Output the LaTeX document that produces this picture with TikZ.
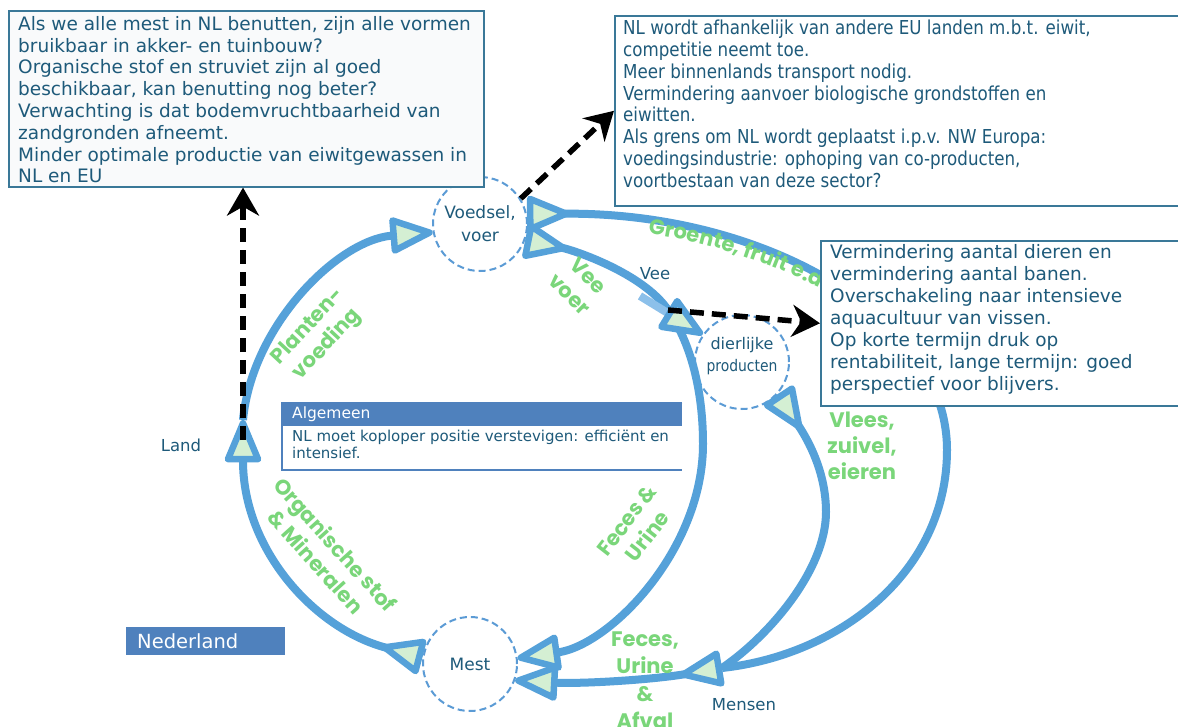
\documentclass[tikz,border=0pt]{standalone}
\usepackage{fontspec}
\setmainfont{DejaVu Sans}
\newfontfamily\condfont{DejaVu Sans}[FakeStretch=0.87]
\newfontfamily\greenfont{Poppins}
\usetikzlibrary{arrows.meta,decorations.text,calc}

\definecolor{arcblue}{HTML}{55A1D9}
\definecolor{arcblueLight}{HTML}{8CC0EA}
\definecolor{tipfill}{HTML}{D4EFD3}
\definecolor{hubline}{HTML}{5B9BD5}
\definecolor{inktext}{HTML}{1E5A7A}
\definecolor{panelline}{HTML}{3A7898}
\definecolor{headblue}{HTML}{4F81BD}
\definecolor{leafgreen}{HTML}{7AD67A}
\definecolor{panelfill}{HTML}{F9FAFB}

\tikzset{
  flow/.style={draw=arcblue, line width=8pt},
  tri/.tip={Triangle[length=48pt, width=38pt, line width=6.5pt, fill=tipfill, round]},
  trs/.tip={Triangle[length=48pt, width=38pt, line width=6.5pt, fill=tipfill, round, reversed]},
  hub/.style={circle, draw=hubline, line width=2pt, dash pattern=on 7pt off 4pt,
    minimum size=94pt, inner sep=0pt, fill=white, text=inktext, align=center,
    font=\fontsize{17}{23}\selectfont},
  panel/.style={draw=panelline, line width=1.6pt, anchor=north west, inner sep=0pt},
  paneltext/.style={anchor=north west, inner sep=0pt, align=left, text=inktext,
    font=\fontsize{18.5}{21.8}\selectfont},
  glabel/.style={text=leafgreen, align=center, inner sep=0pt,
    font=\greenfont\bfseries\fontsize{21}{26}\selectfont},
  tag/.style={text=inktext, inner sep=0pt, font=\fontsize{16.5}{19}\selectfont},
  pointer/.style={draw=black, line width=5.5pt, dash pattern=on 14pt off 8pt,
    -{Stealth[length=28pt, width=32pt, inset=9pt]}},
}

\begin{document}
\begin{tikzpicture}[x=1pt,y=1pt]
\useasboundingbox (0,0) rectangle (1178,-727);
\fill[white] (0,0) rectangle (1178,-727);

% stations of the cycle
\node[hub] (voedsel) at (480,-224) {Voedsel,\\voer};
\node[hub, font=\fontsize{16}{22}\selectfont] (dier) at (742,-362) {dierlijke\\{\condfont producten}\rule[-16pt]{0pt}{0pt}};
\node[hub] (mest) at (470,-664) {Mest};

\coordinate (land) at (243,-420);
\coordinate (vee) at (668,-310);
\coordinate (veeb) at (640,-296);
\coordinate (mensen) at (722,-668);
\coordinate (eastbend) at (947,-450);
\coordinate (veebend) at (703,-444);
\coordinate (vleesbend) at (826,-512);

% flows
\draw[flow, -{tri}] (land) .. controls (252,-325) and (338,-240) .. (voedsel.190);
\draw[flow, {trs}-{tri}] (mest.172) .. controls (315,-629) and (243,-550) .. (land);
\draw[flow, {trs}-] (voedsel.12) .. controls (761,-212) and (947,-314) .. (eastbend)
   .. controls (947,-572) and (840,-655) .. (mensen);
\draw[flow, {trs}-{tri}] (voedsel.-20) .. controls (573,-250) and (643,-273) .. (vee)
   .. controls (694,-348) and (703,-398) .. (veebend)
   .. controls (703,-550) and (610,-645) .. (mest.7);
\draw[flow, {trs}-] (dier.-42) .. controls (808,-440) and (826,-472) .. (vleesbend)
   .. controls (826,-570) and (769,-636) .. (mensen);
\draw[flow, {trs}-{tri}] (mensen) .. controls (650,-680) and (580,-684) .. (mest.-20);
\draw[flow, draw=arcblueLight,
  -{Triangle[length=48pt, width=38pt, line width=6.5pt, round, color=arcblue, fill=tipfill]}] (veeb) -- (dier.145);

% flow labels
\node[glabel, rotate=47] (lplant) at (318,-336) {Planten-\\voeding};
\node[glabel, rotate=-44] (lveevoer) at (579,-285) {Vee\\voer};
\node[glabel, rotate=52] (lfeces) at (637,-528) {Feces \&\\Urine};
\node[glabel, rotate=-48] (lorg) at (326,-553) {Organische stof\\\& Mineralen};
\node[glabel] (lvlees) at (862,-446) {Vlees,\\zuivel,\\eieren};
\node[glabel, font=\greenfont\bfseries\fontsize{21}{27.5}\selectfont] (lafval) at (645,-680) {Feces,\\Urine\\\&\\Afval};
\path[decorate, decoration={text along path,
   text={|\greenfont\bfseries\fontsize{21}{21}\selectfont|Groente, fruit e.d},
   text color=leafgreen, text align=left}]
   (648,-234) .. controls (705,-241) and (775,-263) .. (835,-296);

\node[tag] (tland) at (181,-445) {Land};
\node[tag] (tvee) at (655,-274) {Vee};
\node[tag] (tmensen) at (744,-705) {Mensen};

% commentary panels
\node[panel, fill=panelfill, minimum width=475pt, minimum height=176pt] (tlbox) at (8,-10) {};
\node[paneltext] (tltext) at (18,-16) {Als we alle mest in NL benutten, zijn alle vormen\\
bruikbaar in akker- en tuinbouw?\\
Organische stof en struviet zijn al goed\\
beschikbaar, kan benutting nog beter?\\
Verwachting is dat bodemvruchtbaarheid van\\
zandgronden afneemt.\\
Minder optimale productie van eiwitgewassen in\\
NL en EU};

\node[panel, fill=white, minimum width=575pt, minimum height=190pt] (trbox) at (614,-15) {};
\node[paneltext, font=\condfont\fontsize{19.2}{21.8}\selectfont] (trtext) at (623,-20) {NL wordt afhankelijk van andere EU landen m.b.t. eiwit,\\
competitie neemt toe.\\
Meer binnenlands transport nodig.\\
Vermindering aanvoer biologische grondstoffen en\\
eiwitten.\\
Als grens om NL wordt geplaatst i.p.v. NW Europa:\\
voedingsindustrie: ophoping van co-producten,\\
voortbestaan van deze sector?};

\node[panel, fill=white, minimum width=365pt, minimum height=165pt] (rbox) at (820,-240) {};
\node[paneltext, font=\fontsize{18.5}{22}\selectfont] (rtext) at (830,-244) {Vermindering aantal dieren en\\
vermindering aantal banen.\\
Overschakeling naar intensieve\\
aquacultuur van vissen.\\
Op korte termijn druk op\\
rentabiliteit, lange termijn: goed\\
perspectief voor blijvers.};

% general remark
\node[anchor=north west, fill=headblue, minimum width=400pt, minimum height=23pt, inner sep=0pt] (alghead) at (282,-403) {};
\draw[headblue, line width=1.3pt] (alghead.north east) -- (alghead.north west) -- ++(0,-67) -- ++(400,0);
\node[anchor=west, text=white, inner sep=0pt, font=\fontsize{15.5}{18}\selectfont] (algtitle) at (292,-414.5) {Algemeen};
\node[anchor=north west, text=inktext, inner sep=0pt, align=left, font=\fontsize{15}{16.5}\selectfont] (algtext) at (292,-430) {NL moet koploper positie verstevigen: efficiënt en\\intensief.};

\node[anchor=north west, fill=headblue, minimum height=28pt, text width=137pt, inner xsep=11pt, inner ysep=0pt,
  align=left, text=white, font=\fontsize{19.5}{22}\selectfont] (ned) at (126,-627) {Nederland};

% consequences
\draw[pointer] ([yshift=-20pt]land) -- (land |- tlbox.south);
\draw[pointer] (voedsel.32) -- (trbox.west);
\draw[pointer] (vee) -- (rbox.west);
\end{tikzpicture}
\end{document}
